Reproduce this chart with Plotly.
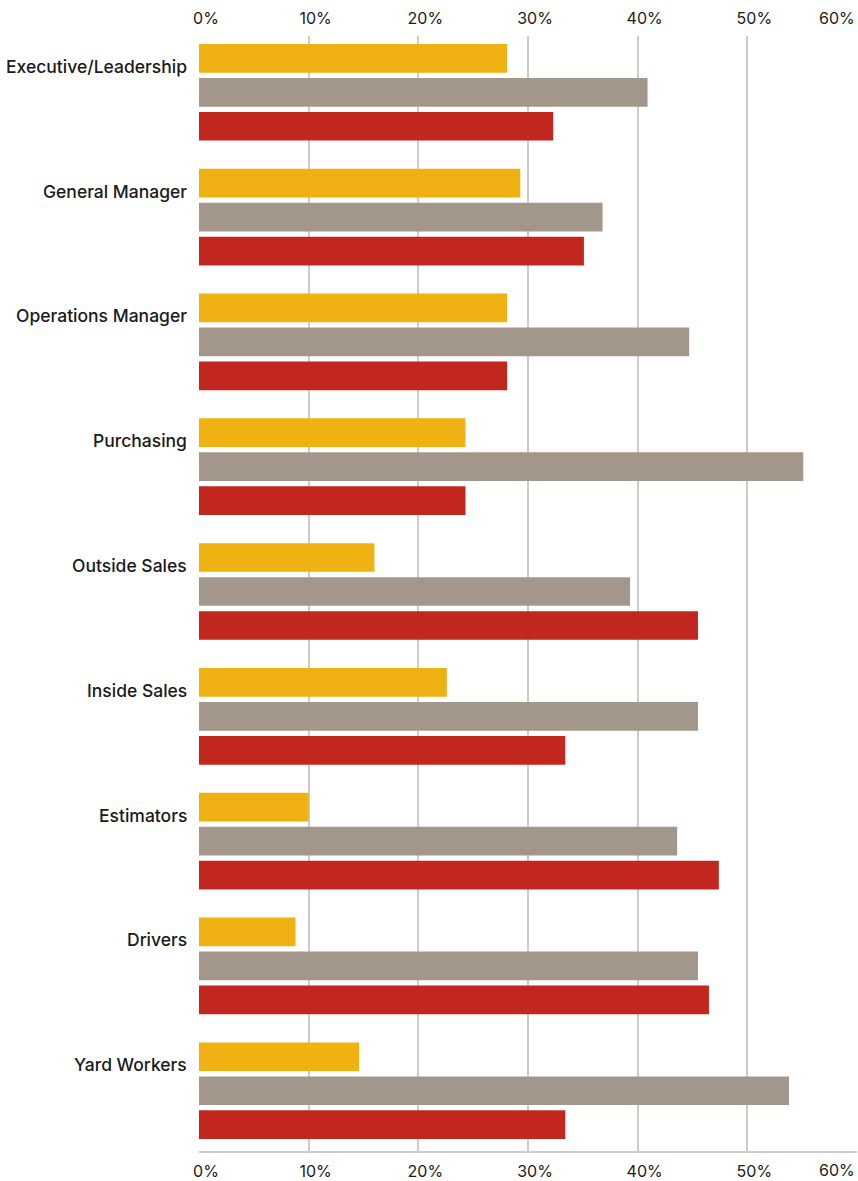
import plotly.graph_objects as go

categories = ["Executive/Leadership", "General Manager", "Operations Manager", "Purchasing",
              "Outside Sales", "Inside Sales", "Estimators", "Drivers", "Yard Workers"]
series_yellow = [28.1, 29.3, 28.1, 24.3, 16.0, 22.6, 10.0, 8.8, 14.6]
series_gray = [40.9, 36.8, 44.7, 55.1, 39.3, 45.5, 43.6, 45.5, 53.8]
series_red = [32.3, 35.1, 28.1, 24.3, 45.5, 33.4, 47.4, 46.5, 33.4]
tick_values = [0, 10, 20, 30, 40, 50, 60]
tick_labels = ["0%", "10%", "20%", "30%", "40%", "50%", "60%"]

colors = ["#EFB212", "#A3978B", "#C1271E"]
FONT = "Inter, Lato, sans-serif"
TXT = "#1a1a1a"
GRID = "#cccccc"

fig = go.Figure()
for vals, col in zip([series_yellow, series_gray, series_red], colors):
    fig.add_trace(go.Bar(y=categories, x=vals, orientation="h", marker_color=col,
                         marker_line_width=0, showlegend=False, hoverinfo="x+y"))
# invisible trace to activate the top axis
fig.add_trace(go.Scatter(x=[0, 60], y=[categories[0], categories[0]], xaxis="x2",
                         mode="markers", marker_opacity=0, showlegend=False, hoverinfo="skip"))

shown_text = tick_labels[:-1] + [""]
axis_common = dict(range=[0, 60], tickmode="array", tickvals=tick_values, ticktext=shown_text,
                   tickfont=dict(family=FONT, size=16, color=TXT), ticks="",
                   ticklabelshift=7, fixedrange=True, automargin=False)

annotations = []
for c in categories:
    annotations.append(dict(x=0, xref="x", y=c, yref="y", xanchor="right", yanchor="middle",
                            xshift=-10, yshift=26, showarrow=False, text=c,
                            font=dict(family=FONT, size=17.5, color=TXT, weight=500)))
# right-most tick label, right-aligned to the plot edge (top and bottom)
annotations.append(dict(x=tick_values[-1], xref="x", y=1, yref="paper", xanchor="right",
                        yanchor="middle", yshift=18, showarrow=False, text=tick_labels[-1],
                        font=dict(family=FONT, size=16, color=TXT)))
annotations.append(dict(x=tick_values[-1], xref="x", y=0, yref="paper", xanchor="right",
                        yanchor="middle", yshift=-19, showarrow=False, text=tick_labels[-1],
                        font=dict(family=FONT, size=16, color=TXT)))

fig.update_layout(
    width=858, height=1181,
    margin=dict(l=199, r=1, t=36, b=30, autoexpand=False),
    paper_bgcolor="white", plot_bgcolor="white",
    barmode="group", bargap=0.183, bargroupgap=0.156,
    xaxis=dict(side="bottom", showgrid=True, gridcolor=GRID, gridwidth=1.5, zeroline=False,
               showline=True, linecolor=GRID, linewidth=1.5, ticklabelstandoff=5, **axis_common),
    xaxis2=dict(side="top", overlaying="x", matches="x", showgrid=False, zeroline=False,
                showline=False, ticklabelstandoff=8, **axis_common),
    yaxis=dict(type="category", categoryorder="array", categoryarray=categories,
               range=[8.483, -0.451], showticklabels=False, showgrid=False, zeroline=False,
               showline=False, ticks="", fixedrange=True, automargin=False),
    annotations=annotations,
)

fig.write_html("out.html")
